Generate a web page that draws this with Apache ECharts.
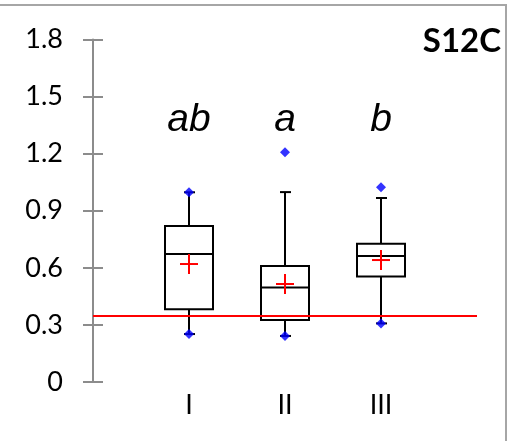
<!DOCTYPE html>
<html>
<head>
<meta charset="utf-8">
<script src="https://cdn.jsdelivr.net/npm/echarts@6/dist/echarts.min.js"></script>
<style>
  html, body { margin: 0; padding: 0; background: #ffffff; }
  #chart { width: 512px; height: 441px; }
</style>
</head>
<body>
<div id="chart"></div>
<script>
  // groups and box statistics
  var categories = ['I', 'II', 'III'];
  var whiskerLow = [0.252, 0.242, 0.308];
  var q1 = [0.382, 0.326, 0.555];
  var median = [0.673, 0.496, 0.662];
  var q3 = [0.820, 0.610, 0.727];
  var whiskerHigh = [0.997, 0.998, 0.967];
  var means = [0.620, 0.515, 0.641];
  var minPoints = [0.252, 0.242, 0.308];
  var maxPoints = [0.997, 1.207, 1.023];
  var letters = ['ab', 'a', 'b'];
  var threshold = 0.35;
  var yTicks = [0, 0.3, 0.6, 0.9, 1.2, 1.5, 1.8];

  // category axis has an empty slot on each side
  var axisData = [''].concat(categories).concat(['']);

  var boxData = categories.map(function (c, i) {
    return [i + 1, whiskerLow[i], q1[i], median[i], q3[i], whiskerHigh[i]];
  });
  var meanData = categories.map(function (c, i) { return [i + 1, means[i]]; });
  var dotData = [];
  categories.forEach(function (c, i) {
    dotData.push([i + 1, minPoints[i]]);
    dotData.push([i + 1, maxPoints[i]]);
  });
  // letters sit a little above the highest whisker area
  var letterData = categories.map(function (c, i) { return [i + 1, 1.272, letters[i]]; });

  var chart = echarts.init(document.getElementById('chart'));
  var lineStyle = { stroke: '#000000', lineWidth: 2 };

  chart.setOption({
    animation: false,
    graphic: [{
      type: 'rect',
      shape: { x: -10, y: 5, width: 516, height: 460 },
      style: { fill: 'none', stroke: '#a6a6a6', lineWidth: 2 },
      silent: true
    }, {
      type: 'text',
      x: 501,
      y: 41,
      style: {
        text: 'S12C',
        font: 'bold 33px Lato',
        fill: '#000000',
        align: 'right',
        verticalAlign: 'middle'
      }
    }],
    grid: { left: 93, right: 35, top: 39.5, bottom: 59 },
    xAxis: {
      type: 'category',
      data: axisData,
      boundaryGap: false,
      axisLine: { show: false },
      axisTick: { show: false },
      axisLabel: { fontFamily: 'Lato', fontSize: 27, color: '#000000', margin: 10, interval: 0 },
      splitLine: { show: false }
    },
    yAxis: [{
      type: 'value',
      min: yTicks[0],
      max: yTicks[yTicks.length - 1],
      interval: 0.3,
      axisLine: { show: true, lineStyle: { color: '#8c8c8c', width: 2 } },
      axisTick: { show: true, length: 10, lineStyle: { color: '#8c8c8c', width: 2 } },
      axisLabel: {
        fontFamily: 'Lato', fontSize: 27, color: '#000000', margin: 30,
        formatter: function (v) { return v === 0 ? '0' : v.toFixed(1); }
      },
      splitLine: { show: false }
    }, {
      // inner half of the crossing ticks
      type: 'value',
      position: 'left',
      min: yTicks[0],
      max: yTicks[yTicks.length - 1],
      interval: 0.3,
      axisLine: { show: false },
      axisTick: { show: true, inside: true, length: 10, lineStyle: { color: '#8c8c8c', width: 2 } },
      axisLabel: { show: false },
      splitLine: { show: false }
    }],
    series: [
      {
        type: 'custom',
        data: boxData,
        z: 3,
        renderItem: function (params, api) {
          var x = api.coord([api.value(0), 0])[0];
          var yLow = api.coord([api.value(0), api.value(1)])[1];
          var yQ1 = api.coord([api.value(0), api.value(2)])[1];
          var yMed = api.coord([api.value(0), api.value(3)])[1];
          var yQ3 = api.coord([api.value(0), api.value(4)])[1];
          var yHigh = api.coord([api.value(0), api.value(5)])[1];
          var half = 24;
          return {
            type: 'group',
            children: [
              { type: 'line', shape: { x1: x, y1: yQ3, x2: x, y2: yHigh }, style: lineStyle },
              { type: 'line', shape: { x1: x, y1: yQ1, x2: x, y2: yLow }, style: lineStyle },
              { type: 'line', shape: { x1: x - 5, y1: yHigh, x2: x + 6, y2: yHigh }, style: lineStyle },
              { type: 'line', shape: { x1: x - 5, y1: yLow, x2: x + 6, y2: yLow }, style: lineStyle },
              { type: 'rect', shape: { x: x - half, y: yQ3, width: half * 2, height: yQ1 - yQ3 },
                style: { fill: 'none', stroke: '#000000', lineWidth: 2 } },
              { type: 'line', shape: { x1: x - half, y1: yMed, x2: x + half, y2: yMed }, style: lineStyle }
            ]
          };
        },
        markLine: {
          silent: true,
          symbol: 'none',
          label: { show: false },
          lineStyle: { color: '#ff0000', width: 2, type: 'solid' },
          data: [{ yAxis: threshold }]
        }
      },
      {
        type: 'custom',
        data: meanData,
        z: 4,
        renderItem: function (params, api) {
          var p = api.coord([api.value(0), api.value(1)]);
          var s = { stroke: '#ff0000', lineWidth: 2 };
          return {
            type: 'group',
            children: [
              { type: 'line', shape: { x1: p[0] - 9, y1: p[1], x2: p[0] + 9, y2: p[1] }, style: s },
              { type: 'line', shape: { x1: p[0], y1: p[1] - 10, x2: p[0], y2: p[1] + 10 }, style: s }
            ]
          };
        }
      },
      {
        type: 'scatter',
        data: dotData,
        symbol: 'diamond',
        symbolSize: 10,
        z: 5,
        itemStyle: { color: '#0000ff' }
      },
      {
        type: 'custom',
        data: letterData,
        renderItem: function (params, api) {
          var p = api.coord([api.value(0), api.value(1)]);
          return {
            type: 'text',
            x: p[0],
            y: p[1],
            style: {
              text: letterData[params.dataIndex][2],
              font: 'italic 39px "Liberation Sans"',
              fill: '#000000',
              align: 'center',
              verticalAlign: 'bottom'
            }
          };
        }
      }
    ]
  });
</script>
</body>
</html>
